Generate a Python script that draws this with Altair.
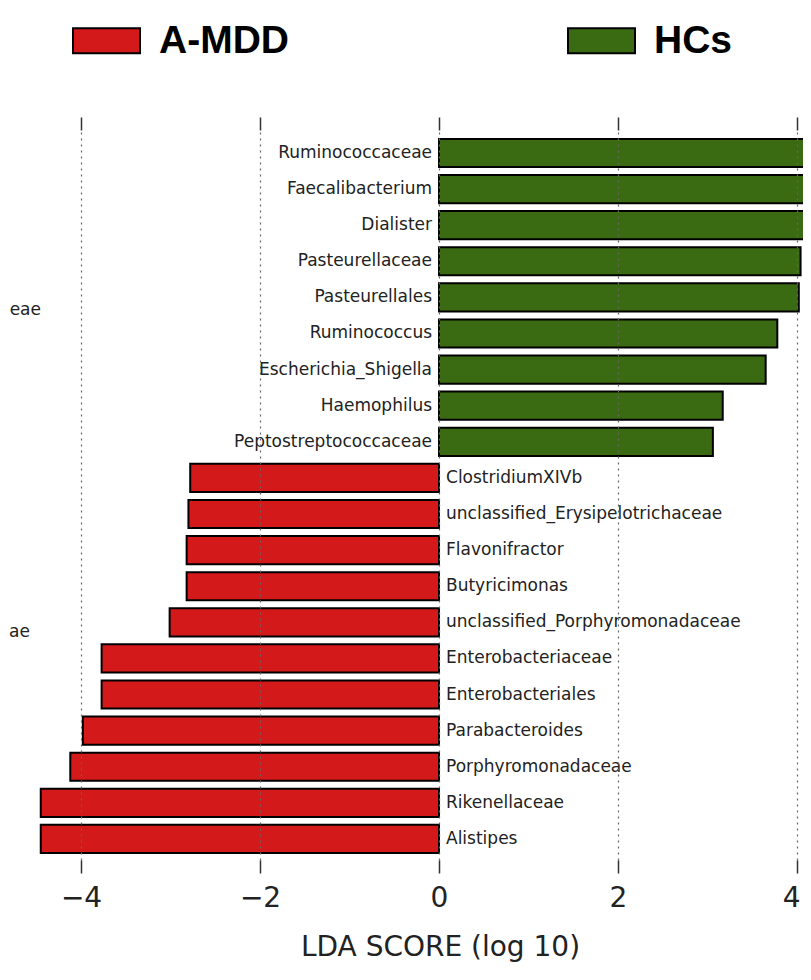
import altair as alt
import pandas as pd

# ---- data ----
taxa = [
    "Ruminococcaceae", "Faecalibacterium", "Dialister", "Pasteurellaceae",
    "Pasteurellales", "Ruminococcus", "Escherichia_Shigella", "Haemophilus",
    "Peptostreptococcaceae", "ClostridiumXIVb", "unclassified_Erysipelotrichaceae",
    "Flavonifractor", "Butyricimonas", "unclassified_Porphyromonadaceae",
    "Enterobacteriaceae", "Enterobacteriales", "Parabacteroides",
    "Porphyromonadaceae", "Rikenellaceae", "Alistipes",
]
lda = [4.55, 4.50, 4.45, 4.04, 4.02, 3.78, 3.65, 3.17, 3.06,
       -2.78, -2.80, -2.82, -2.82, -3.01, -3.77, -3.77, -3.98, -4.12, -4.45, -4.45]
group = ["HCs"] * 9 + ["A-MDD"] * 11
groups = ["A-MDD", "HCs"]
colors = ["#D31919", "#3A6B12"]
tick_values = [-4, -2, 0, 2, 4]
fragments = ["eae", "ae"]  # cut-off labels at the left edge of the crop

df = pd.DataFrame({"taxon": taxa, "lda": lda, "group": group, "zero": [0] * len(taxa)})
frag_df = pd.DataFrame({"t": fragments})

x_scale = alt.Scale(domain=[-4.816, 4.067], nice=False, zero=False)
y_scale = alt.Scale(domain=taxa, paddingInner=0.22, paddingOuter=0.22, align=0.56, round=False)

base = alt.Chart(df)

bars = base.mark_bar(clip=True, stroke="black", strokeWidth=2).encode(
    x=alt.X("lda:Q", scale=x_scale,
            axis=alt.Axis(values=tick_values, orient="bottom", domain=False,
                          ticks=True, tickSize=13, tickColor="#333", tickWidth=1.5,
                          labelFont="DejaVu Sans", labelFontSize=28, labelColor="#222",
                          labelPadding=11, labelFlush=False,
                          labelAlign=alt.condition("datum.value >= 4",
                                                   alt.value("right"), alt.value("center")),
                          labelOffset=alt.condition("datum.value >= 4",
                                                    alt.value(3), alt.value(0)),
                          grid=True, gridDash=[2, 4], gridColor="#666", gridWidth=1.2,
                          title="LDA SCORE (log 10)", titleFont="DejaVu Sans",
                          titleFontSize=28, titleFontWeight="normal", titleColor="#222",
                          titleX=432, titleY=95, titleAlign="center",
                          titleBaseline="alphabetic", zindex=1)),
    y=alt.Y("taxon:N", scale=y_scale, axis=None, sort=taxa),
    color=alt.Color("group:N", scale=alt.Scale(domain=groups, range=colors),
                    legend=alt.Legend(orient="none", legendX=64, legendY=-124,
                                      direction="horizontal", title=None,
                                      symbolType="M-1,-0.373L1,-0.373L1,0.373L-1,0.373Z",
                                      symbolSize=4489, symbolStrokeColor="black",
                                      symbolStrokeWidth=2, symbolOpacity=1,
                                      labelFont="Liberation Sans", labelFontWeight="bold",
                                      labelFontSize=39, labelColor="black",
                                      labelOffset=18, columnPadding=275, labelLimit=300)),
)

pos_labels = base.transform_filter("datum.lda > 0").mark_text(
    align="right", baseline="middle", dx=-7, font="DejaVu Sans", fontSize=17, color="#222"
).encode(
    x=alt.X("zero:Q", scale=x_scale,
            axis=alt.Axis(values=tick_values, orient="top", labels=False, domain=False,
                          ticks=True, tickSize=13, tickColor="#333", tickWidth=1.5,
                          grid=False, title=None)),
    y=alt.Y("taxon:N", scale=y_scale, axis=None, sort=taxa),
    text="taxon:N",
)

neg_labels = base.transform_filter("datum.lda < 0").mark_text(
    align="left", baseline="middle", dx=7, font="DejaVu Sans", fontSize=17, color="#222"
).encode(
    x=alt.X("zero:Q", scale=x_scale, axis=None),
    y=alt.Y("taxon:N", scale=y_scale, axis=None, sort=taxa),
    text="taxon:N",
)

frag1 = alt.Chart(frag_df.iloc[[0]]).mark_text(
    align="right", baseline="middle", font="DejaVu Sans", fontSize=17, color="#222"
).encode(x=alt.value(33), y=alt.value(180), text="t:N")

frag2 = alt.Chart(frag_df.iloc[[1]]).mark_text(
    align="right", baseline="middle", font="DejaVu Sans", fontSize=17, color="#222"
).encode(x=alt.value(22), y=alt.value(502), text="t:N")

chart = alt.layer(bars, pos_labels, neg_labels, frag1, frag2).resolve_axis(
    x="independent"
).properties(
    width=795, height=730,
    autosize=alt.AutoSizeParams(type="none"),
    padding={"left": 0, "top": 122, "right": 0, "bottom": 103},
).configure_view(strokeWidth=0)

chart.save("out.html", embed_options={"renderer": "svg", "actions": False})
